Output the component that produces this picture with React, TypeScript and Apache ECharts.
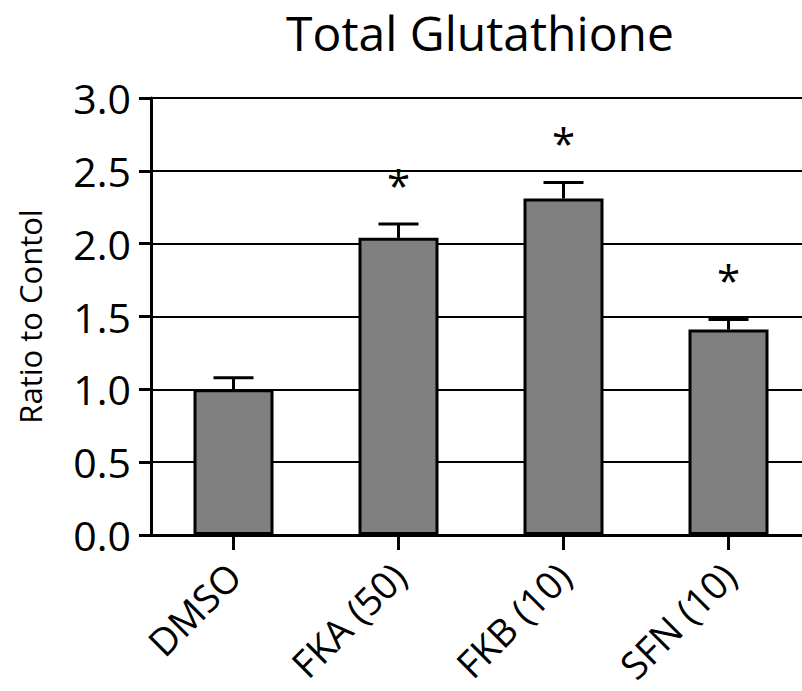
import React, { useEffect, useRef } from "react";
import * as echarts from "echarts";

const titleText = "Total Glutathione";
const yAxisName = "Ratio to Contol";
const categories = ["DMSO", "FKA (50)", "FKB (10)", "SFN (10)"];
const means = [1.0, 2.04, 2.31, 1.41];
const errorTops = [1.08, 2.135, 2.42, 1.48];
const significant = [false, true, true, true];
const yTicks = [0, 0.5, 1.0, 1.5, 2.0, 2.5, 3.0];

const FONT = "'Open Sans', 'Noto Sans', sans-serif";

export default function App() {
  const ref = useRef<HTMLDivElement>(null);
  useEffect(() => {
    if (!ref.current) return;
    const chart = echarts.init(ref.current, null, { renderer: "svg" });
    const errData = categories.map((_, i) => [i, means[i], errorTops[i], significant[i] ? 1 : 0]);
    chart.setOption({
      animation: false,
      backgroundColor: "#ffffff",
      textStyle: { fontFamily: FONT },
      graphic: [
        {
          type: "text",
          x: 480,
          y: 32,
          style: {
            text: titleText,
            fontSize: 48,
            fontFamily: FONT,
            fill: "#000",
            textAlign: "center",
            textVerticalAlign: "middle",
          },
        },
      ],
      grid: {
        left: 151,
        top: 98,
        width: 660,
        height: 437,
        containLabel: false,
        outerBoundsMode: "none",
      },
      xAxis: {
        type: "category",
        data: categories,
        axisLine: { show: true, lineStyle: { color: "#000", width: 3 } },
        axisTick: { show: true, alignWithLabel: true, length: 15, lineStyle: { color: "#000", width: 3 } },
        axisLabel: { rotate: 45, margin: 34, fontSize: 38, color: "#000", fontFamily: FONT },
        splitLine: { show: false },
      },
      yAxis: {
        type: "value",
        min: 0,
        max: 3,
        interval: 0.5,
        name: yAxisName,
        nameLocation: "middle",
        nameGap: 106,
        nameTextStyle: { fontSize: 31, color: "#000", fontFamily: FONT },
        axisLine: { show: true, lineStyle: { color: "#000", width: 3 } },
        axisTick: { show: true, length: 12, lineStyle: { color: "#000", width: 3 } },
        axisLabel: {
          margin: 20,
          fontSize: 41,
          color: "#000",
          fontFamily: FONT,
          formatter: (v: number) => (yTicks.includes(v) ? v.toFixed(1) : ""),
        },
        splitLine: { show: true, lineStyle: { color: "#000", width: 2 } },
      },
      series: [
        {
          type: "bar",
          data: means,
          barWidth: 80,
          itemStyle: { color: "#808080", borderColor: "#000", borderWidth: 3 },
          z: 2,
        },
        {
          type: "custom",
          data: errData,
          z: 3,
          renderItem: (params: any, api: any) => {
            const idx = api.value(0);
            const top = api.coord([idx, api.value(2)]);
            const base = api.coord([idx, api.value(1)]);
            const children: any[] = [
              {
                type: "line",
                shape: { x1: base[0], y1: base[1], x2: top[0], y2: top[1] },
                style: { stroke: "#000", lineWidth: 3 },
              },
              {
                type: "line",
                shape: { x1: top[0] - 20, y1: top[1], x2: top[0] + 20, y2: top[1] },
                style: { stroke: "#000", lineWidth: 3 },
              },
            ];
            if (api.value(3) === 1) {
              children.push({
                type: "text",
                x: top[0],
                y: top[1] - 40,
                style: {
                  text: "*",
                  fontSize: 42,
                  fontFamily: FONT,
                  fill: "#000",
                  textAlign: "center",
                  textVerticalAlign: "middle",
                },
              });
            }
            return { type: "group", children };
          },
        },
      ],
    });
    return () => chart.dispose();
  }, []);
  return (
    <div
      ref={ref}
      style={{ position: "absolute", left: 0, top: 0, width: 802, height: 691 }}
    />
  );
}
